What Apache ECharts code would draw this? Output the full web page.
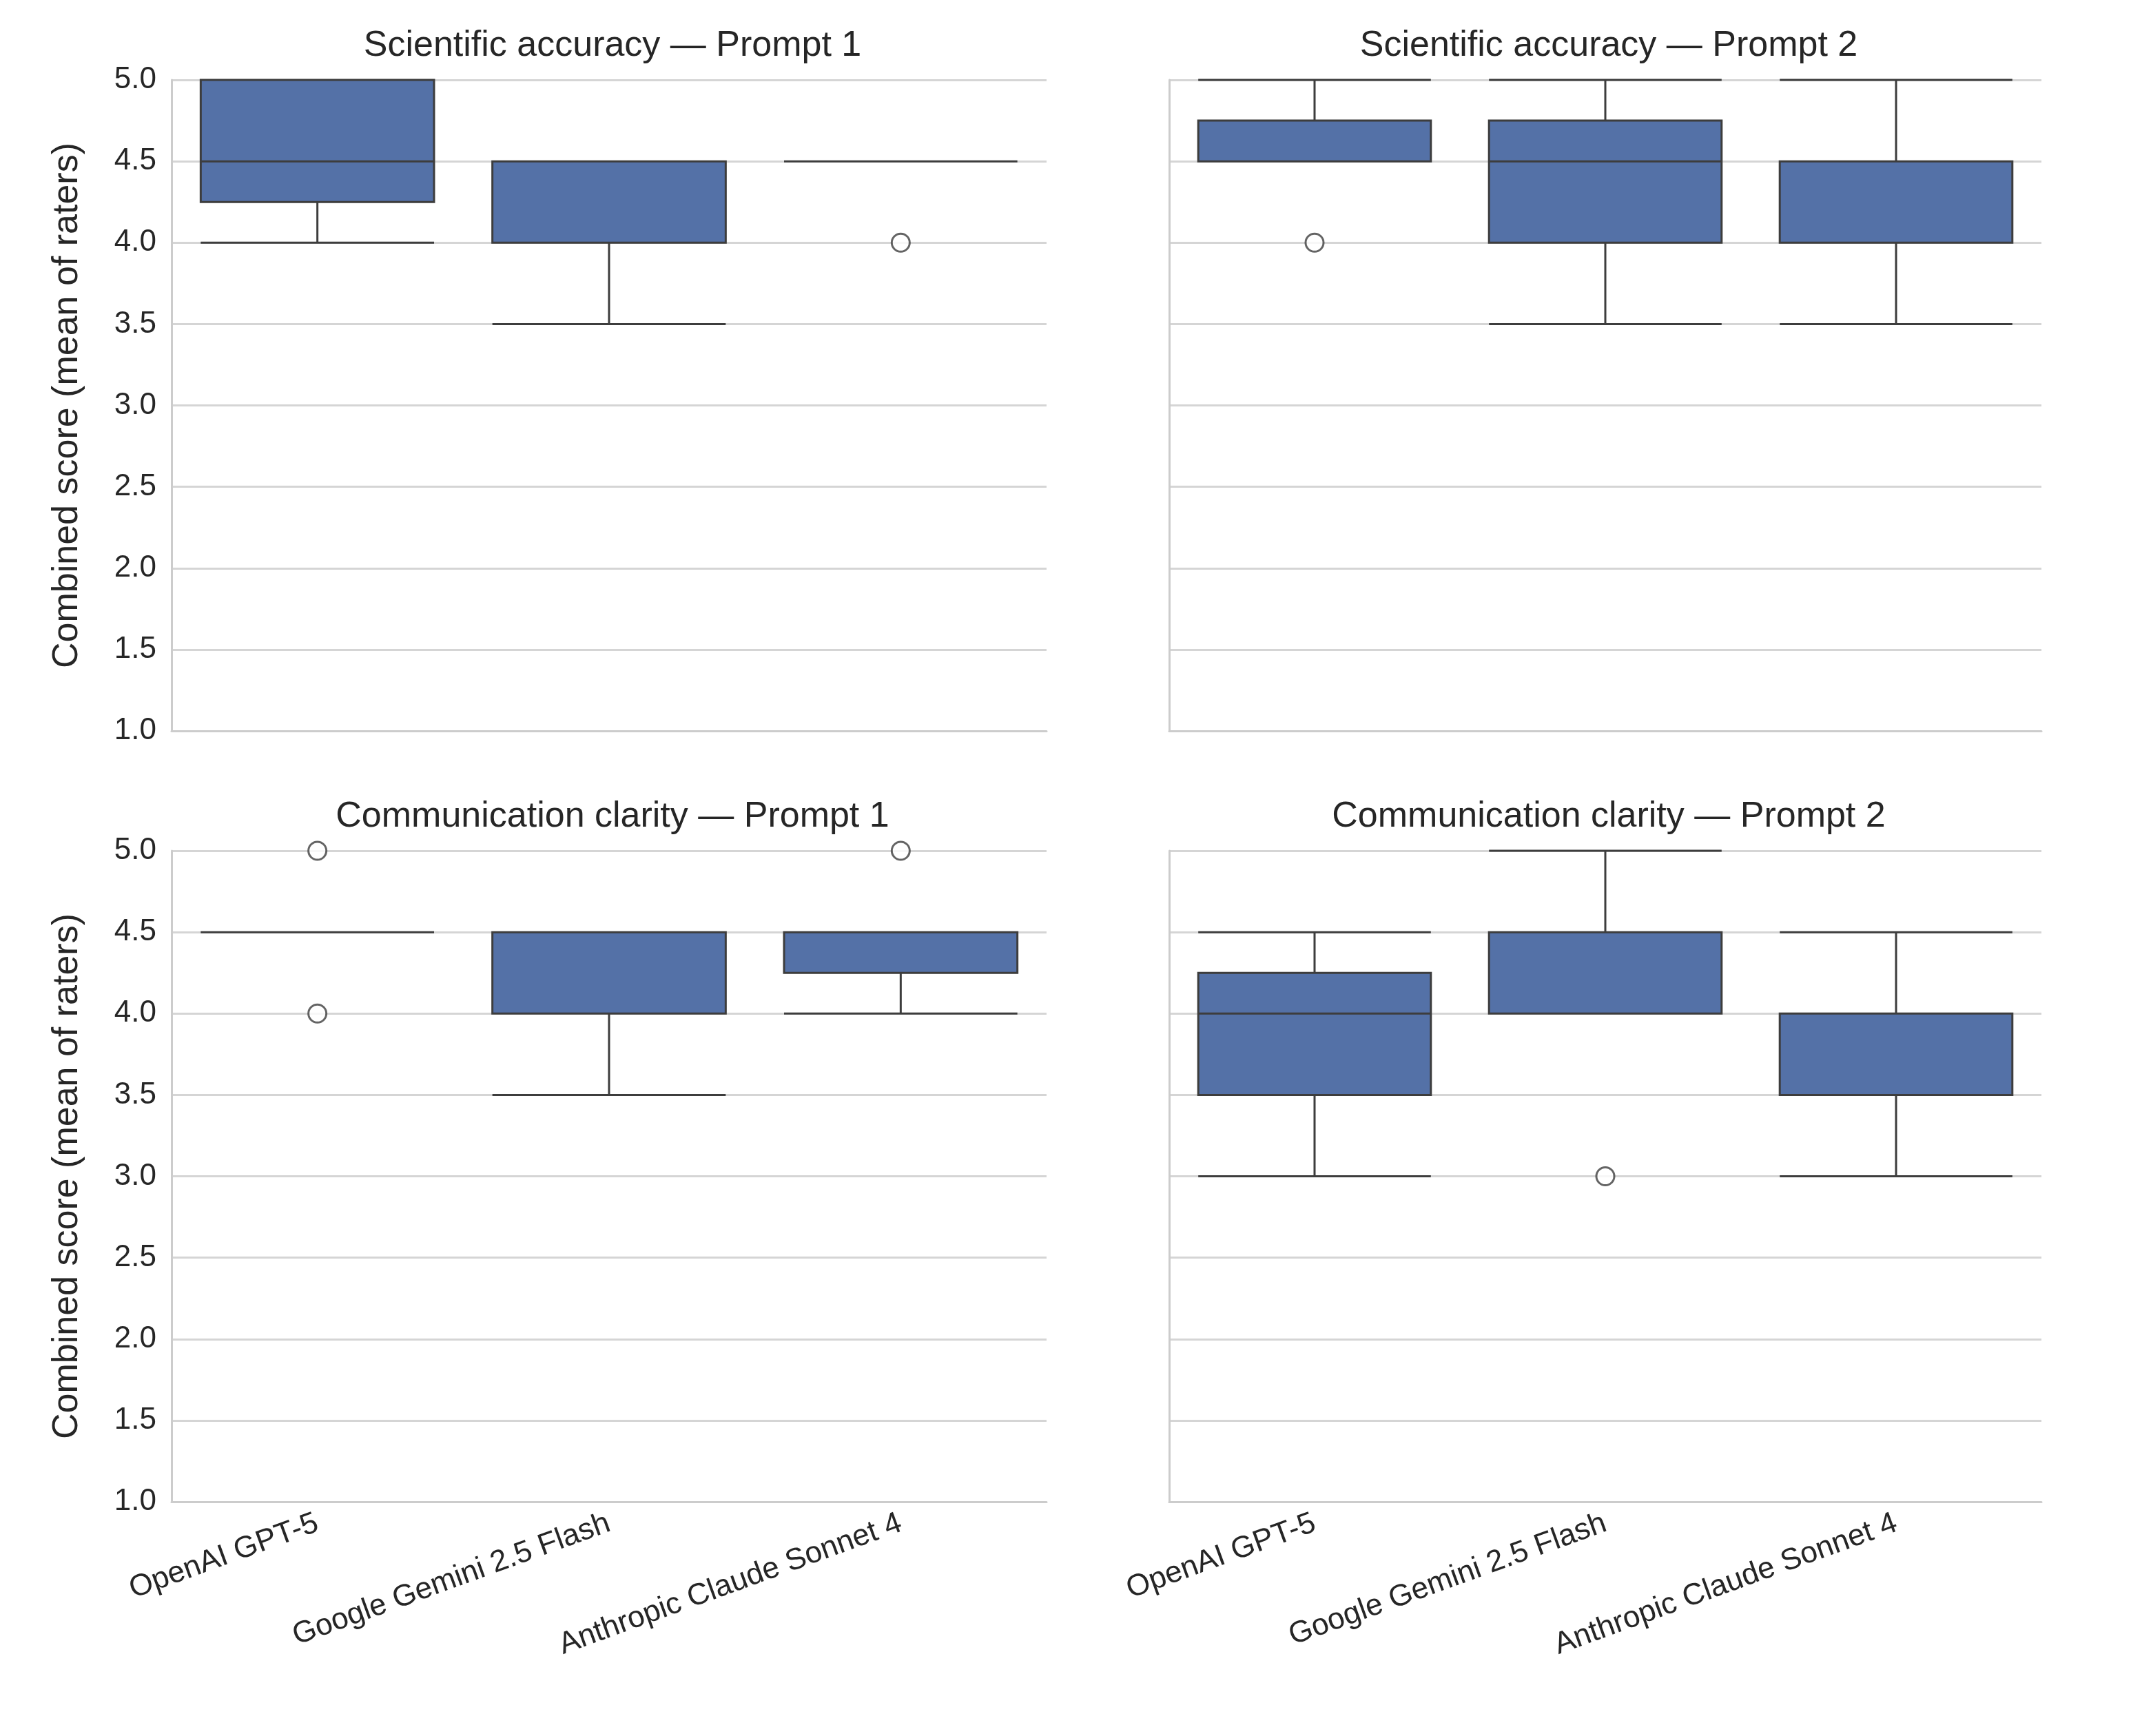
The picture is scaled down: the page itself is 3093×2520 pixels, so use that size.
<!DOCTYPE html>
<html>
<head>
<meta charset="utf-8">
<script src="https://cdn.jsdelivr.net/npm/echarts@6/dist/echarts.min.js"></script>
<style>html,body{margin:0;padding:0;background:#fff}#c{width:3093px;height:2520px}</style>
</head>
<body>
<div id="c"></div>
<script>
const models = ['OpenAI GPT-5', 'Google Gemini 2.5 Flash', 'Anthropic Claude Sonnet 4'];
const panelTitles = [
    'Scientific accuracy — Prompt 1', 'Scientific accuracy — Prompt 2',
    'Communication clarity — Prompt 1', 'Communication clarity — Prompt 2'
];
// [min, Q1, median, Q3, max] per model
const sciP1 = [[4, 4.25, 4.5, 5, 5], [3.5, 4, 4.5, 4.5, 4.5], [4.5, 4.5, 4.5, 4.5, 4.5]];
const sciP2 = [[4.5, 4.5, 4.5, 4.75, 5], [3.5, 4, 4.5, 4.75, 5], [3.5, 4, 4.5, 4.5, 5]];
const comP1 = [[4.5, 4.5, 4.5, 4.5, 4.5], [3.5, 4, 4.5, 4.5, 4.5], [4, 4.25, 4.5, 4.5, 4.5]];
const comP2 = [[3, 3.5, 4, 4.25, 4.5], [4, 4, 4.5, 4.5, 5], [3, 3.5, 4, 4, 4.5]];
// outliers: [modelIndex, value]
const sciP1Out = [[2, 4]];
const sciP2Out = [[0, 4]];
const comP1Out = [[0, 5], [0, 4], [2, 5]];
const comP2Out = [[1, 3]];

const boxes = [sciP1, sciP2, comP1, comP2];
const outs = [sciP1Out, sciP2Out, comP1Out, comP2Out];

const grids = [
    {left: 249, width: 1270, top: 116, height: 945},
    {left: 1697, width: 1266, top: 116, height: 945},
    {left: 249, width: 1270, top: 1235, height: 945},
    {left: 1697, width: 1266, top: 1235, height: 945}
];
const font = 'Arial, "Liberation Sans", sans-serif';
const lineCol = '#3d3d3d';

const chart = echarts.init(document.getElementById('c'));
const option = {
    animation: false,
    backgroundColor: '#fff',
    title: panelTitles.map((t, i) => ({
        text: t,
        left: grids[i].left + grids[i].width / 2,
        textAlign: 'center',
        top: grids[i].top - 80,
        textStyle: {fontFamily: font, fontSize: 52, fontWeight: 'normal', color: '#262626'}
    })),
    grid: grids,
    xAxis: grids.map((g, i) => ({
        type: 'category',
        gridIndex: i,
        data: models,
        axisLine: {show: true, lineStyle: {color: '#cccccc', width: 3}},
        axisTick: {show: false},
        axisLabel: {
            show: i >= 2, rotate: 20, fontFamily: font, fontSize: 44, color: '#262626',
            margin: 30, interval: 0
        },
        splitLine: {show: false}
    })),
    yAxis: grids.map((g, i) => ({
        type: 'value',
        gridIndex: i,
        min: 1, max: 5, interval: 0.5,
        name: i % 2 === 0 ? 'Combined score (mean of raters)' : '',
        nameLocation: 'middle',
        nameGap: 125,
        nameTextStyle: {fontFamily: font, fontSize: 52, color: '#262626'},
        axisLine: {show: true, lineStyle: {color: '#cccccc', width: 3}},
        axisTick: {show: false},
        axisLabel: {
            show: i % 2 === 0, fontFamily: font, fontSize: 44, color: '#262626', margin: 22,
            formatter: v => v.toFixed(1)
        },
        splitLine: {show: true, lineStyle: {color: '#d5d5d5', width: 3}}
    })),
    series: [
        ...boxes.map((b, i) => ({
            type: 'boxplot',
            xAxisIndex: i, yAxisIndex: i,
            data: b,
            boxWidth: ['80%', '80%'],
            itemStyle: {color: '#5471a7', borderColor: lineCol, borderWidth: 3}
        })),
        ...outs.map((o, i) => ({
            type: 'scatter',
            xAxisIndex: i, yAxisIndex: i,
            data: o,
            symbol: 'circle',
            symbolSize: 26,
            itemStyle: {color: '#fff', borderColor: lineCol, borderWidth: 3}
        }))
    ]
};
chart.setOption(option);
</script>
</body>
</html>
